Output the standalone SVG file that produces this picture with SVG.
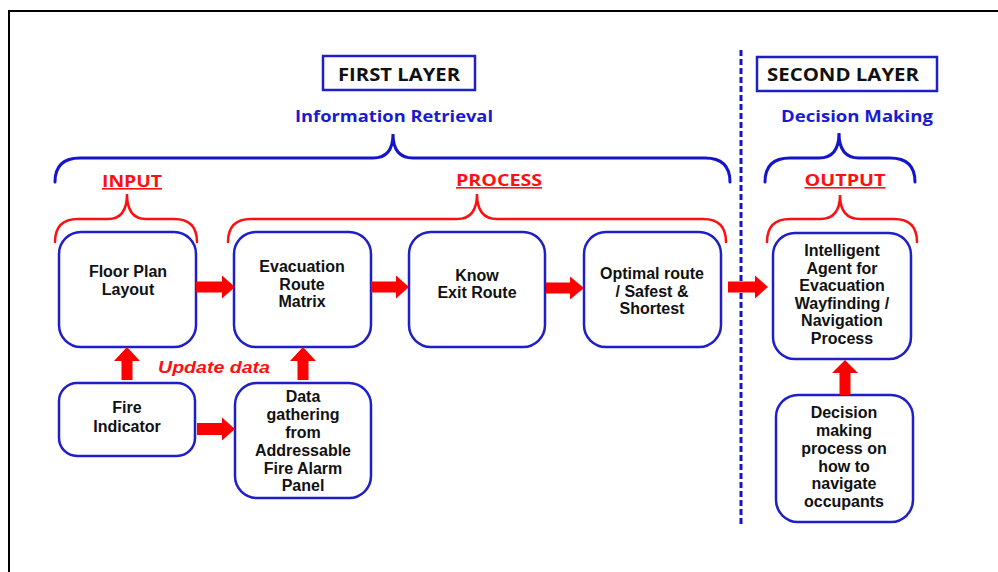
<svg xmlns="http://www.w3.org/2000/svg" width="998" height="572" viewBox="0 0 998 572">
<style>
.frame{stroke:#000;stroke-width:2;fill:none}
.box{fill:#fff;stroke:#1f1fc8;stroke-width:2.5}
.lbox{fill:#fff;stroke:#1f1fc8;stroke-width:2.5}
.bt{font-family:"Liberation Sans",Arial,sans-serif;font-weight:bold;font-size:16px;fill:#111;text-anchor:middle}
.ht{font-family:"Open Sans","Liberation Sans",sans-serif;font-weight:bold;text-anchor:middle}
.bb{fill:none;stroke:#1414c8;stroke-width:3;stroke-linecap:round}
.rb{fill:none;stroke:#ff1010;stroke-width:2.5;stroke-linecap:round}
.arr{fill:#ff0000}
</style>
<rect width="998" height="572" fill="#fff"/>
<path class="frame" d="M9,572 V11 H998"/>

<g id="headings">
  <rect class="lbox" x="323" y="56" width="152" height="34"/>
  <text class="ht" x="399" y="81" font-size="18" fill="#111" textLength="122" lengthAdjust="spacingAndGlyphs">FIRST LAYER</text>
  <text class="ht" x="394" y="122" font-size="16.5" fill="#1a1ad0" textLength="198" lengthAdjust="spacingAndGlyphs">Information Retrieval</text>
  <rect class="lbox" x="757" y="57" width="180" height="34"/>
  <text class="ht" x="843" y="81" font-size="18" fill="#111" textLength="152" lengthAdjust="spacingAndGlyphs">SECOND LAYER</text>
  <text class="ht" x="857" y="122" font-size="16.5" fill="#1a1ad0" textLength="152" lengthAdjust="spacingAndGlyphs">Decision Making</text>
  <text class="ht" x="132" y="187" font-size="16" fill="#ff1010" text-decoration="underline" textLength="60" lengthAdjust="spacingAndGlyphs">INPUT</text>
  <text class="ht" x="499" y="186" font-size="16" fill="#ff1010" text-decoration="underline" textLength="86" lengthAdjust="spacingAndGlyphs">PROCESS</text>
  <text class="ht" x="845" y="186" font-size="16" fill="#ff1010" text-decoration="underline" textLength="81" lengthAdjust="spacingAndGlyphs">OUTPUT</text>
</g>

<g id="braces">
  <path class="bb" d="M55,182 Q55,158 80,158 L373,158 C386,158 393,150 393,134 C393,150 400,158 413,158 L705,158 Q730,158 730,182"/>
  <path class="bb" d="M765,182 Q765,158 790,158 L819,158 C832,158 839,150 839,133 C839,150 846,158 859,158 L890,158 Q915,158 915,182"/>
  <path class="rb" d="M55,242 Q55,219 78,219 L108,219 C121,219 127,211 127,194 C127,211 133,219 146,219 L174,219 Q197,219 197,242"/>
  <path class="rb" d="M228,242 Q228,219 251,219 L457,219 C470,219 477,211 477,194 C477,211 484,219 497,219 L703,219 Q726,219 726,242"/>
  <path class="rb" d="M767,242 Q767,219 790,219 L820,219 C833,219 840,211 840,195 C840,211 847,219 860,219 L894,219 Q917,219 917,242"/>
</g>

<line x1="741" y1="50" x2="741" y2="527" stroke="#1414c8" stroke-width="3" stroke-dasharray="6 3"/>

<g id="n-floor">
  <rect class="box" x="59" y="232" width="137" height="115" rx="22"/>
  <text class="bt" x="128" y="277">Floor Plan</text>
  <text class="bt" x="128" y="295">Layout</text>
</g>
<g id="n-evac">
  <rect class="box" x="234" y="232" width="137" height="115" rx="22"/>
  <text class="bt" x="302" y="272">Evacuation</text>
  <text class="bt" x="302" y="290">Route</text>
  <text class="bt" x="302" y="307">Matrix</text>
</g>
<g id="n-know">
  <rect class="box" x="409" y="232" width="136" height="115" rx="22"/>
  <text class="bt" x="477" y="281">Know</text>
  <text class="bt" x="477" y="298">Exit Route</text>
</g>
<g id="n-optimal">
  <rect class="box" x="584" y="232" width="137" height="115" rx="22"/>
  <text class="bt" x="652" y="279">Optimal route</text>
  <text class="bt" x="652" y="297">/ Safest &amp;</text>
  <text class="bt" x="652" y="314">Shortest</text>
</g>
<g id="n-agent">
  <rect class="box" x="773" y="233" width="138" height="126" rx="22"/>
  <text class="bt" x="842" y="256">Intelligent</text>
  <text class="bt" x="842" y="273.5">Agent for</text>
  <text class="bt" x="842" y="291">Evacuation</text>
  <text class="bt" x="842" y="308.5">Wayfinding /</text>
  <text class="bt" x="842" y="326">Navigation</text>
  <text class="bt" x="842" y="343.5">Process</text>
</g>
<g id="n-fire">
  <rect class="box" x="59" y="383" width="136" height="73" rx="18"/>
  <text class="bt" x="127" y="413">Fire</text>
  <text class="bt" x="127" y="432">Indicator</text>
</g>
<g id="n-data">
  <rect class="box" x="235" y="383" width="136" height="115" rx="22"/>
  <text class="bt" x="303" y="402">Data</text>
  <text class="bt" x="303" y="420">gathering</text>
  <text class="bt" x="303" y="438">from</text>
  <text class="bt" x="303" y="456">Addressable</text>
  <text class="bt" x="303" y="474">Fire Alarm</text>
  <text class="bt" x="303" y="491">Panel</text>
</g>
<g id="n-decision">
  <rect class="box" x="776" y="395" width="137" height="127" rx="22"/>
  <text class="bt" x="844" y="418">Decision</text>
  <text class="bt" x="844" y="436">making</text>
  <text class="bt" x="844" y="454">process on</text>
  <text class="bt" x="844" y="472">how to</text>
  <text class="bt" x="844" y="489">navigate</text>
  <text class="bt" x="844" y="507">occupants</text>
</g>

<g id="connectors">
  <polygon class="arr" points="196,281.5 222,281.5 222,275.5 235,287 222,298.5 222,292.5 196,292.5"/>
  <polygon class="arr" points="371,281.5 396,281.5 396,275.5 409,287 396,298.5 396,292.5 371,292.5"/>
  <polygon class="arr" points="546,282.5 570,282.5 570,276.5 584,288 570,299.5 570,293.5 546,293.5"/>
  <polygon class="arr" points="728,281.5 755,281.5 755,275.5 768,287 755,298.5 755,292.5 728,292.5"/>
  <polygon class="arr" points="197,423 222,423 222,417.5 235,429 222,440.5 222,435 197,435"/>
  <polygon class="arr" points="121.5,380 121.5,361 114,361 127,347 140,361 132.5,361 132.5,380"/>
  <polygon class="arr" points="297.5,380 297.5,361 290,361 303,347 316,361 308.5,361 308.5,380"/>
  <polygon class="arr" points="839.5,395 839.5,373 832,373 845,360 858,373 850.5,373 850.5,395"/>
  <text x="214" y="373" font-family="'Liberation Sans',Arial,sans-serif" font-weight="bold" font-style="italic" font-size="17" fill="#ff1010" text-anchor="middle" textLength="112" lengthAdjust="spacingAndGlyphs">Update data</text>
</g>
</svg>
